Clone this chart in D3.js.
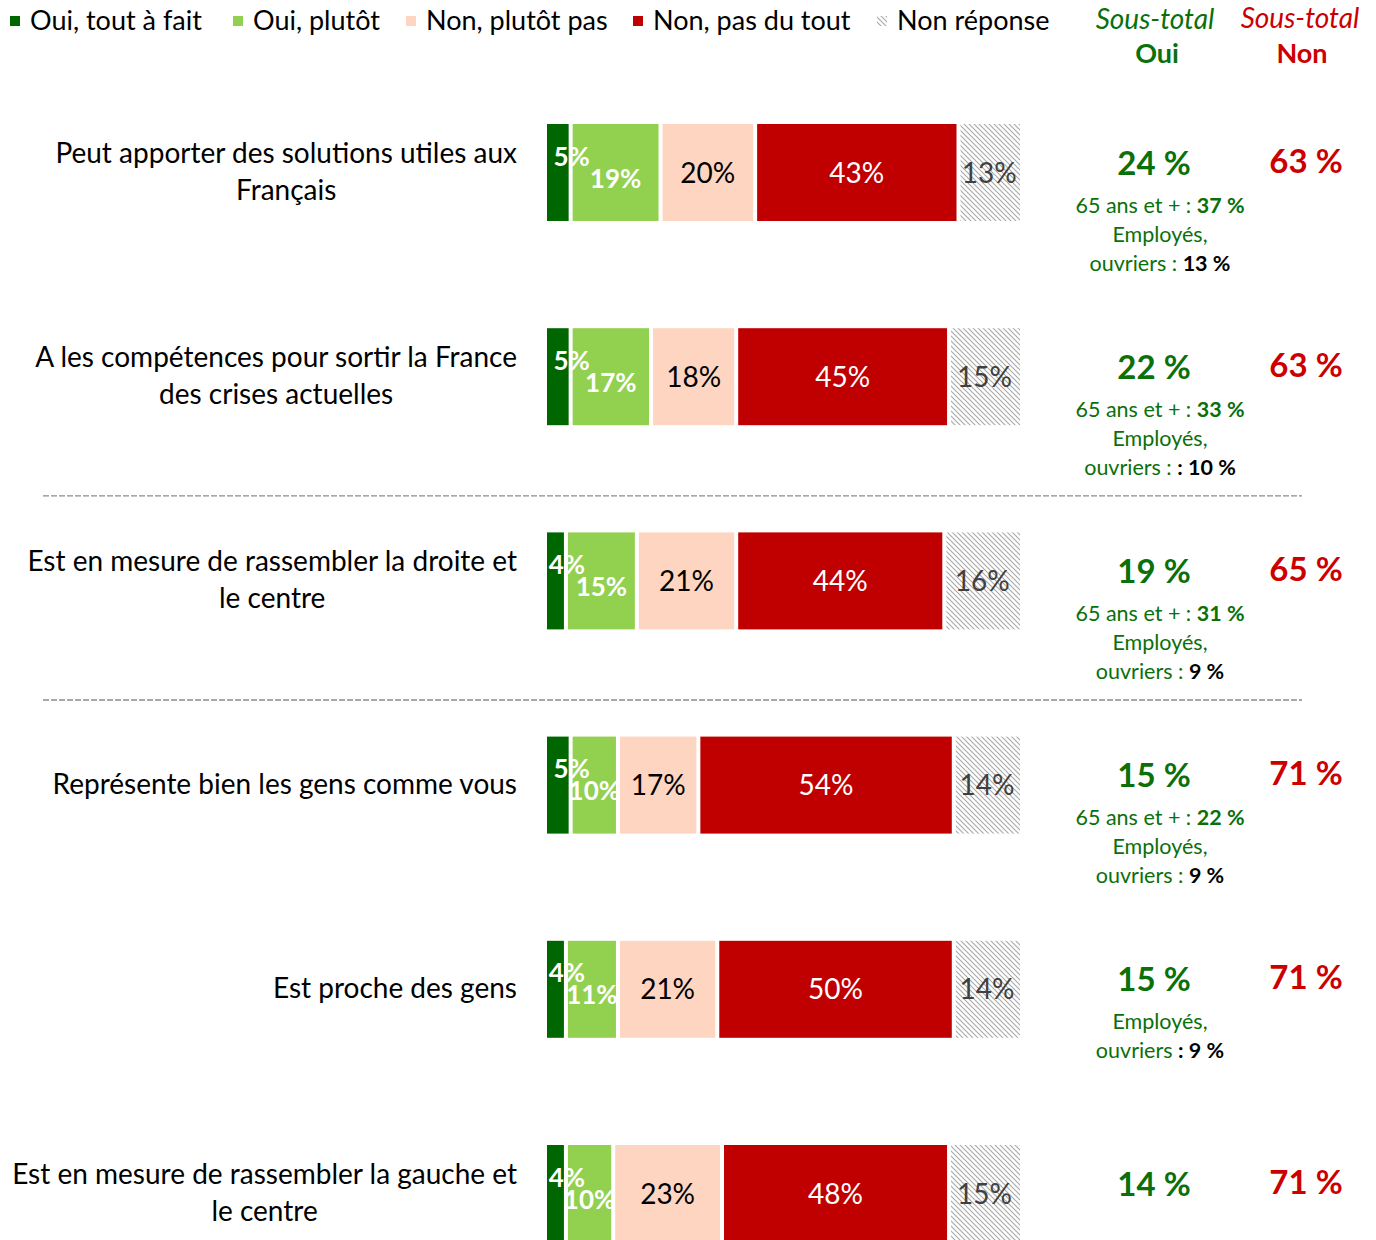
<!DOCTYPE html>
<html>
<head>
<meta charset="utf-8">
<script src="https://cdn.jsdelivr.net/npm/d3@7"></script>
<style>
  body { margin: 0; background: #fff; }
  svg { display: block; font-family: Lato, "Open Sans", sans-serif; }
</style>
</head>
<body>
<div id="chart"></div>
<script>
// categories (one line per array entry)
const items = [
    ["Peut apporter des solutions utiles aux", "Français"],
    ["A les compétences pour sortir la France", "des crises actuelles"],
    ["Est en mesure de rassembler la droite et", "le centre"],
    ["Représente bien les gens comme vous"],
    ["Est proche des gens"],
    ["Est en mesure de rassembler la gauche et", "le centre"]
];
const series = ["Oui, tout à fait", "Oui, plutôt", "Non, plutôt pas", "Non, pas du tout", "Non réponse"];

const ouiToutAFait = [5, 5, 4, 5, 4, 4];
const ouiPlutot    = [19, 17, 15, 10, 11, 10];
const nonPlutotPas = [20, 18, 21, 17, 21, 23];
const nonPasDuTout = [43, 45, 44, 54, 50, 48];
const nonReponse   = [13, 15, 16, 14, 14, 15];

const sousTotalOui = [24, 22, 19, 15, 15, 14];
const sousTotalNon = [63, 63, 65, 71, 71, 71];

// sub notes : [text, bold part, bold colour]
const notes = [
    [["65 ans et + : ", "37 %", "g"], ["Employés,", "", ""], ["ouvriers : ", "13 %", "k"]],
    [["65 ans et + : ", "33 %", "g"], ["Employés,", "", ""], ["ouvriers : ", ": 10 %", "k"]],
    [["65 ans et + : ", "31 %", "g"], ["Employés,", "", ""], ["ouvriers : ", "9 %", "k"]],
    [["65 ans et + : ", "22 %", "g"], ["Employés,", "", ""], ["ouvriers : ", "9 %", "k"]],
    [["Employés,", "", ""], ["ouvriers ", ": 9 %", "k"]],
    []
];
// separators after these rows
const separatorsAfter = [1, 2];

const colors = ["#006600", "#92D050", "#FDD5C0", "#C00000", "url(#hatch)"];
const labelColors = ["#fff", "#fff", "#000", "#fff", "#404040"];
const green = "#0A700A", red = "#CC0000";

const width = 1376, height = 1240;
const svg = d3.select("#chart").append("svg")
    .attr("width", width).attr("height", height);

// hatch pattern for Non réponse
const defs = svg.append("defs");
const pat = defs.append("pattern")
    .attr("id", "hatch")
    .attr("patternUnits", "userSpaceOnUse")
    .attr("width", 5).attr("height", 5);
pat.append("rect").attr("width", 5).attr("height", 5).attr("fill", "#fff");
pat.append("path")
    .attr("d", "M-1,-1 L6,6 M-1,4 L1,6 M4,-1 L6,1")
    .attr("stroke", "#a8a8a8").attr("stroke-width", 1.1);

const data = items.map((lines, i) => {
    const vals = [ouiToutAFait[i], ouiPlutot[i], nonPlutotPas[i], nonPasDuTout[i], nonReponse[i]];
    let acc = 0;
    const segs = vals.map((v, k) => {
        const s = { k: k, v: v, x0: acc, x1: acc + v };
        acc += v;
        return s;
    });
    return { i: i, lines: lines, segs: segs };
});

const x = d3.scaleLinear().domain([0, 100]).range([547, 1020]);
const y = d3.scalePoint().domain(d3.range(items.length)).range([172.5, 1193.5]);
const barH = 97;
const gap = 2;

// legend
const legend = svg.append("g").attr("class", "legend");
const legendX = [10, 233, 406, 633, 877];
series.forEach((s, k) => {
    legend.append("rect")
        .attr("x", legendX[k]).attr("y", 16)
        .attr("width", 10).attr("height", 10)
        .attr("fill", colors[k]);
    legend.append("text")
        .attr("x", legendX[k] + 20).attr("y", 30)
        .attr("font-size", 27)
        .attr("fill", "#000")
        .text(s);
});

// column headers
[[1155, "Oui", green, 29], [1300, "Non", red, 28]].forEach(([cx, t, c, ty]) => {
    svg.append("text").attr("x", cx).attr("y", ty)
        .attr("text-anchor", "middle").attr("font-size", 28)
        .attr("font-style", "italic").attr("fill", c).text("Sous-total");
    svg.append("text").attr("x", cx + 2).attr("y", 63)
        .attr("text-anchor", "middle").attr("font-size", 27)
        .attr("font-weight", "bold").attr("fill", c).text(t);
});

const rows = svg.selectAll("g.row")
    .data(data).enter().append("g").attr("class", "row");

// row labels: block right aligned at 517, lines centered in block
rows.each(function(d) {
    const g = d3.select(this);
    const cy = y(d.i);
    const lh = 37;
    const texts = d.lines.map((l, j) => g.append("text")
        .attr("y", cy - (d.lines.length - 1) * lh / 2 + j * lh + 9)
        .attr("font-size", 28)
        .attr("fill", "#000")
        .text(l));
    const maxW = d3.max(texts, t => t.node().getComputedTextLength());
    texts.forEach(t => t.attr("x", 517 - maxW / 2).attr("text-anchor", "middle"));
});

// segments
rows.selectAll("rect.seg")
    .data(d => d.segs.map(s => Object.assign({ row: d.i }, s)))
    .enter().append("rect")
    .attr("class", "seg")
    .attr("x", s => x(s.x0) + (s.k > 0 ? gap : 0))
    .attr("width", s => x(s.x1) - x(s.x0) - (s.k > 0 ? gap : 0) - (s.k < 4 ? gap : 0))
    .attr("y", s => y(s.row) - barH / 2)
    .attr("height", barH)
    .attr("fill", s => colors[s.k]);

// segment labels
rows.selectAll("text.val")
    .data(d => d.segs.map(s => Object.assign({ row: d.i }, s)))
    .enter().append("text")
    .attr("class", "val")
    .attr("text-anchor", "middle")
    .attr("x", s => s.k === 0 ? x(s.x1) + 1 : (x(s.x0) + x(s.x1)) / 2)
    .attr("y", s => y(s.row) + (s.k === 0 ? -7 : s.k === 1 ? 15 : 10))
    .attr("font-size", s => s.k < 2 ? 26 : 28)
    .attr("font-weight", s => s.k < 2 ? "bold" : "normal")
    .attr("fill", s => labelColors[s.k])
    .text(s => s.v + "%");

// subtotals
rows.append("text")
    .attr("x", 1154).attr("y", d => y(d.i) + 2)
    .attr("text-anchor", "middle").attr("font-size", 33).attr("font-weight", "bold")
    .attr("fill", green)
    .text(d => sousTotalOui[d.i] + " %");
rows.append("text")
    .attr("x", 1306).attr("y", d => y(d.i))
    .attr("text-anchor", "middle").attr("font-size", 33).attr("font-weight", "bold")
    .attr("fill", red)
    .text(d => sousTotalNon[d.i] + " %");

// notes under Oui subtotal
rows.each(function(d) {
    const g = d3.select(this);
    notes[d.i].forEach((n, j) => {
        const t = g.append("text")
            .attr("x", 1160)
            .attr("y", y(d.i) + 40 + j * 29)
            .attr("text-anchor", "middle")
            .attr("font-size", 21.5)
            .attr("fill", green);
        t.append("tspan").text(n[0]);
        if (n[1]) {
            t.append("tspan").attr("font-weight", "bold")
                .attr("fill", n[2] === "g" ? green : "#000")
                .text(n[1]);
        }
    });
});

// dashed separators
separatorsAfter.forEach(i => {
    const sy = (y(i) + y(i + 1)) / 2 + 17;
    svg.append("line")
        .attr("x1", 43).attr("x2", 1302)
        .attr("y1", sy).attr("y2", sy)
        .attr("stroke", "#8c8c8c").attr("stroke-width", 1.3)
        .attr("stroke-dasharray", "6,2");
});
</script>
</body>
</html>
